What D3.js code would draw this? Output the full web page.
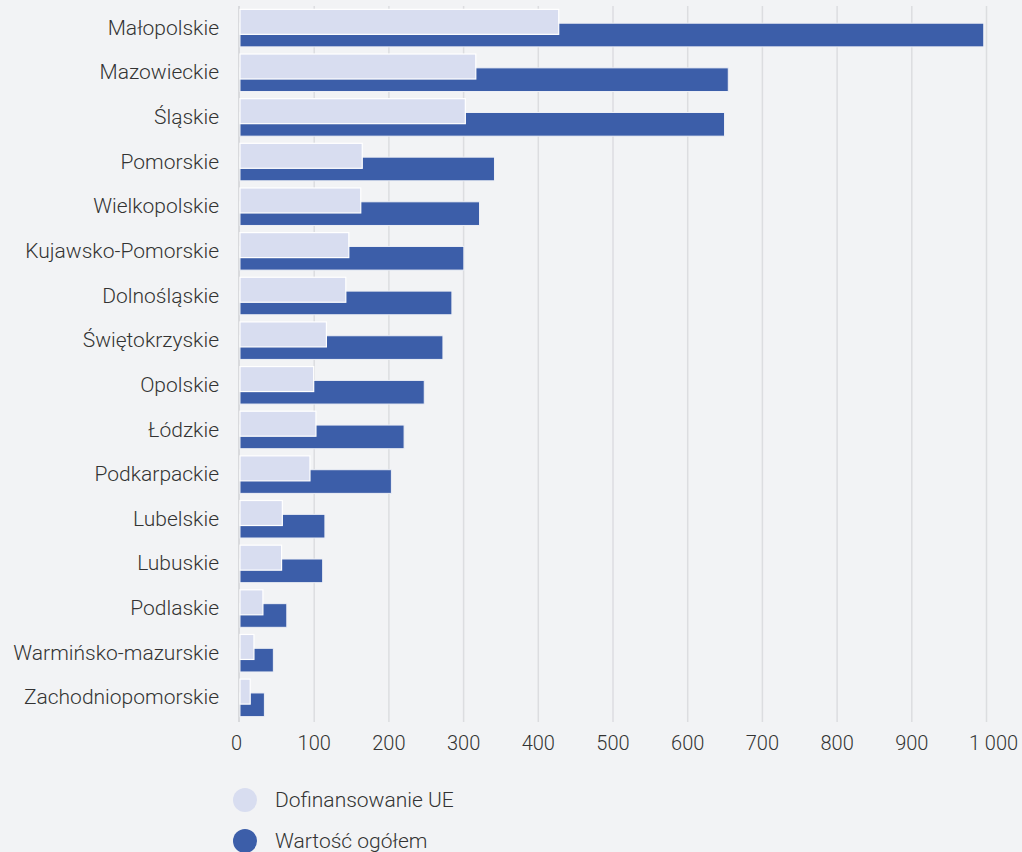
<!DOCTYPE html>
<html><head><meta charset="utf-8">
<script src="https://cdn.jsdelivr.net/npm/d3@7"></script>
<style>
html,body{margin:0;padding:0;background:#f2f3f5;}
svg{display:block;font-family:Roboto,"Noto Sans",sans-serif;font-weight:300;}
</style></head>
<body>
<svg id="c" width="1022" height="852"></svg>
<script>
const categories = ["Małopolskie","Mazowieckie","Śląskie","Pomorskie","Wielkopolskie","Kujawsko-Pomorskie","Dolnośląskie","Świętokrzyskie","Opolskie","Łódzkie","Podkarpackie","Lubelskie","Lubuskie","Podlaskie","Warmińsko-mazurskie","Zachodniopomorskie"];
const dofinansowanieUE = [428, 317, 303, 165, 163, 147, 143, 117, 100, 103, 95, 58, 57, 32, 20, 15];
const wartoscOgolem = [997, 655, 650, 342, 322, 301, 285, 273, 248, 221, 204, 115, 112, 64, 46, 34];
const ticks = [0,100,200,300,400,500,600,700,800,900,1000];
const seriesNames = ["Dofinansowanie UE","Wartość ogółem"];
const colors = ["#d8ddf0","#3c5ea9"];

const svg = d3.select("#c");
const x = d3.scaleLinear().domain([0,1000]).range([239,986]);
const y = d3.scaleBand().domain(categories).range([4,718.4]).padding(0);
const bw = y.bandwidth();

// grid
const fmt = v => d3.format(",")(v).replace(/,/g," ");
svg.append("g").selectAll("line").data(ticks.slice(1)).join("line")
  .attr("x1",d=>x(d)+0.5).attr("x2",d=>x(d)+0.5).attr("y1",6).attr("y2",722)
  .attr("stroke","#dcdde0").attr("stroke-width",1.5);
svg.append("line").attr("x1",x(0)).attr("x2",x(0)).attr("y1",6).attr("y2",722)
  .attr("stroke","#d9dadd").attr("stroke-width",2);

// bars
const g = svg.append("g");
g.selectAll("rect.tot").data(categories).join("rect").attr("class","tot")
  .attr("x",x(0)+1).attr("y",d=>y(d)+bw*0.43)
  .attr("width",(d,i)=>x(wartoscOgolem[i])-x(0)-1).attr("height",bw*0.53)
  .attr("fill",colors[1]).attr("stroke","#eef0f6").attr("stroke-width",1);
g.selectAll("rect.ue").data(categories).join("rect").attr("class","ue")
  .attr("x",x(0)+1).attr("y",d=>y(d)+bw*0.12)
  .attr("width",(d,i)=>x(dofinansowanieUE[i])-x(0)-1).attr("height",bw*0.56)
  .attr("fill",colors[0]).attr("stroke","#ffffff").attr("stroke-width",1.2);

// category labels
svg.append("g").selectAll("text").data(categories).join("text")
  .attr("x",219).attr("y",d=>y(d)+bw*0.5+1).attr("dy","0.35em")
  .attr("text-anchor","end").attr("font-size",21).attr("fill","#333").text(d=>d);

// x axis
const ax = svg.append("g").attr("transform","translate(0,722)")
  .call(d3.axisBottom(x).tickValues(ticks).tickFormat(fmt).tickSize(0).tickPadding(14));
ax.select(".domain").remove();
ax.selectAll("text").attr("font-size",20).attr("fill","#333").attr("font-family","Roboto,sans-serif").attr("font-weight",300);
ax.selectAll(".tick").filter(d=>d===0).select("text").attr("dx",-3);
ax.selectAll(".tick").filter(d=>d===1000).select("text").attr("dx",7);

// legend
const lg = svg.append("g").selectAll("g").data(seriesNames).join("g")
  .attr("transform",(d,i)=>`translate(245,${800+i*41})`);
lg.append("circle").attr("r",12).attr("fill",(d,i)=>colors[i]);
lg.append("text").attr("x",30).attr("dy","0.35em").attr("font-size",21).attr("fill","#333").text(d=>d);
</script>
</body></html>
